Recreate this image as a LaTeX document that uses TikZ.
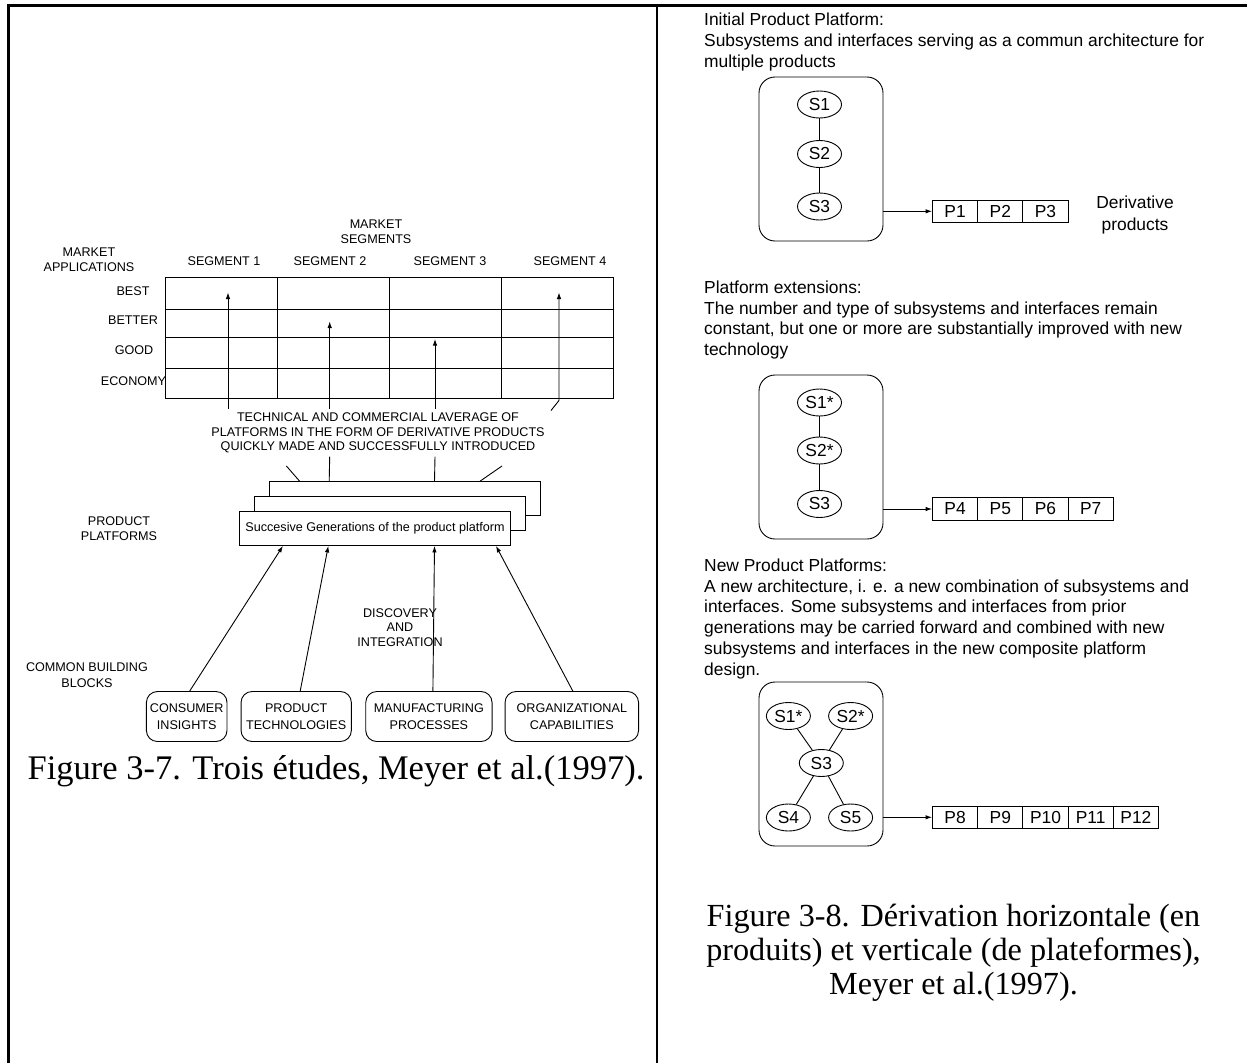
\documentclass[tikz,border=0pt]{standalone}
\usepackage{fontspec}
\setmainfont{Liberation Serif}
\newfontfamily\arialf{Liberation Sans}
\usetikzlibrary{arrows.meta,shapes.geometric}

\begin{document}
\begin{tikzpicture}[x=1pt,y=-1pt,
  ln/.style={line width=0.9pt},
  arr/.style={ln,-{Latex[length=6.5pt,width=4.5pt]}},
  lbl/.style={font=\arialf\fontsize{12.6}{15}\selectfont,align=center,inner sep=0},
  rtxt/.style={font=\arialf\fontsize{17.4}{20.8}\selectfont,align=left,anchor=north west,inner sep=0},
  capt/.style={align=center,inner sep=0},
  block/.style={draw,ln,rounded corners=11pt,minimum height=50pt,inner sep=0,
    font=\arialf\fontsize{12.6}{17}\selectfont,align=center},
  layer/.style={draw,ln,fill=white,inner sep=0,minimum width=270.7pt,minimum height=34pt,
    font=\arialf\fontsize{12.6}{15}\selectfont},
  plat/.style={draw,ln,rounded corners=16pt,minimum width=124pt,minimum height=164pt,inner sep=0},
  sub/.style={draw,ln,ellipse,minimum width=44pt,minimum height=27pt,inner sep=0,
    font=\arialf\fontsize{17.4}{20}\selectfont},
  prod/.style={draw,ln,minimum width=45.2pt,minimum height=22.5pt,inner sep=0,
    font=\arialf\fontsize{17.4}{20}\selectfont},
]
\useasboundingbox (0,0) rectangle (1247,1063);

% page frame: two columns
\draw[line width=2.2pt] (8.5,1063) -- (8.5,5.5) -- (1247,5.5);
\draw[line width=2.2pt] (657,5.5) -- (657,1063);

% ---------------- left column: platform leverage map ----------------
\node[lbl] (mseg) at (376,231.5) {MARKET\\SEGMENTS};
\node[lbl] (mapp) at (89,260) {MARKET\\APPLICATIONS};
\node[lbl] (seg1) at (224,261.5) {SEGMENT 1};
\node[lbl] (seg2) at (330,261.5) {SEGMENT 2};
\node[lbl] (seg3) at (450,261.5) {SEGMENT 3};
\node[lbl] (seg4) at (570,261.5) {SEGMENT 4};

% segment / application grid
\draw[ln] (165,277) rectangle (613,398);
\foreach \gx in {277,389,501} \draw[ln] (\gx,277) -- (\gx,398);
\foreach \gy in {309,337.5,368.5} \draw[ln] (165,\gy) -- (613,\gy);

\node[lbl] (best) at (133,291) {BEST};
\node[lbl] (better) at (133,320) {BETTER};
\node[lbl] (good) at (134,350.5) {GOOD};
\node[lbl] (economy) at (133.5,381) {ECONOMY};

% derivative products reaching into the grid
\coordinate (a1s) at (228,409);   \coordinate (a1e) at (228,292.5);
\coordinate (a2s) at (329.7,409); \coordinate (a2e) at (329.7,321.5);
\coordinate (a3s) at (435,409);   \coordinate (a3e) at (435,339);
\coordinate (a4s) at (551,410.5); \coordinate (a4b) at (559,400.5); \coordinate (a4e) at (559,292.5);
\draw[arr] (a1s) -- (a1e);
\draw[arr] (a2s) -- (a2e);
\draw[arr] (a3s) -- (a3e);
\draw[arr] (a4s) -- (a4b) -- (a4e);

\node[lbl,font=\arialf\fontsize{12.6}{14.5}\selectfont] (lev) at (378,433)
  {TECHNICAL AND COMMERCIAL LAVERAGE OF\\PLATFORMS IN THE FORM OF DERIVATIVE PRODUCTS\\QUICKLY MADE AND SUCCESSFULLY INTRODUCED};

% stacked platform generations
\node[layer] (back) at (404.7,498.5) {};
\node[layer] (mid) at (389.8,513.5) {};
\node[layer] (front) at (375,528.5) {Succesive Generations of the product platform};

\coordinate (l1s) at (286.4,466);
\coordinate (l2s) at (329.7,456.7);
\coordinate (l3s) at (435,456.7);
\coordinate (l4s) at (502,466);
\draw[ln] (l1s) -- ([xshift=30.6pt]back.north west);
\draw[ln] (l2s) -- ([xshift=60.3pt]back.north west);
\draw[ln] (l3s) -- ([xshift=165.6pt]back.north west);
\draw[ln] (l4s) -- ([xshift=211.3pt]back.north west);

\node[lbl] (pplat) at (119,528.5) {PRODUCT\\PLATFORMS};

% common building blocks
\node[block,minimum width=80.6pt] (cb) at (186.7,716.5) {CONSUMER\\INSIGHTS};
\node[block,minimum width=110.3pt] (pt) at (296.2,716.5) {PRODUCT\\TECHNOLOGIES};
\node[block,minimum width=126.3pt] (mp) at (428.9,716.5) {MANUFACTURING\\PROCESSES};
\node[block,minimum width=133.5pt] (oc) at (571.8,716.5) {ORGANIZATIONAL\\CAPABILITIES};

\draw[arr] ([xshift=3pt]cb.north) -- ([xshift=43.7pt]front.south west);
\draw[arr] ([xshift=4pt]pt.north) -- ([xshift=89.1pt]front.south west);
\draw[arr] ([xshift=4pt]mp.north) -- ([xshift=195.3pt]front.south west);
\draw[arr] ([xshift=1pt]oc.north) -- ([xshift=256.8pt]front.south west);

\node[lbl,font=\arialf\fontsize{12.6}{14.8}\selectfont] (disc) at (400,627.5) {DISCOVERY\\AND\\INTEGRATION};
\node[lbl,font=\arialf\fontsize{12.6}{15.6}\selectfont] (cbb) at (87,675) {COMMON BUILDING\\BLOCKS};

\node[capt,font=\fontsize{34.5}{38}\selectfont,anchor=base] (cap1) at (336,779)
  {Figure 3-7. Trois études, Meyer et al.(1997).};

% ---------------- right column: horizontal and vertical derivation ----------------
\node[rtxt,font=\arialf\fontsize{17.4}{21}\selectfont] (t1) at (704,13)
  {Initial Product Platform:\\Subsystems and interfaces serving as a commun architecture for\\multiple products};

\node[plat] (pf1) at (821,159) {};
\node[sub] (a-s1) at (819.5,104.5) {S1};
\node[sub] (a-s2) at (819.5,154) {S2};
\node[sub] (a-s3) at (819.5,206.5) {S3};
\draw[ln] (a-s1) -- (a-s2);
\draw[ln] (a-s2) -- (a-s3);
\foreach \i/\cx in {1/955.1,2/1000.3,3/1045.5}
  \node[prod] (p\i) at (\cx,211.3) {P\i};
\draw[arr] (pf1.east |- p1.west) -- (p1.west);
\node[font=\arialf\fontsize{17.4}{21.3}\selectfont,align=center,inner sep=0] (deriv) at (1135,215)
  {Derivative\\products};

\node[rtxt] (t2) at (704,280.5)
  {Platform extensions:\\The number and type of subsystems and interfaces remain\\constant, but one or more are substantially improved with new\\technology};

\node[plat] (pf2) at (821,457) {};
\node[sub] (b-s1) at (819.5,402.5) {S1*};
\node[sub] (b-s2) at (819.5,450.5) {S2*};
\node[sub] (b-s3) at (819.5,504) {S3};
\draw[ln] (b-s1) -- (b-s2);
\draw[ln] (b-s2) -- (b-s3);
\foreach \i/\cx in {4/955.1,5/1000.3,6/1045.5,7/1090.7}
  \node[prod] (p\i) at (\cx,509) {P\i};
\draw[arr] (pf2.east |- p4.west) -- (p4.west);

\node[rtxt] (t3) at (704,558.5)
  {New Product Platforms:\\A new architecture, i. e. a new combination of subsystems and\\interfaces. Some subsystems and interfaces from prior\\generations may be carried forward and combined with new\\subsystems and interfaces in the new composite platform\\design.};

\node[plat] (pf3) at (821,764) {};
\node[sub] (c-s1) at (788.4,716) {S1*};
\node[sub] (c-s2) at (850.6,716) {S2*};
\node[sub] (c-s3) at (821.3,763) {S3};
\node[sub] (c-s4) at (788.4,817.5) {S4};
\node[sub] (c-s5) at (850.6,817.5) {S5};
\draw[ln] (c-s1) -- (c-s3);
\draw[ln] (c-s2) -- (c-s3);
\draw[ln] (c-s3) -- (c-s4);
\draw[ln] (c-s3) -- (c-s5);
\foreach \i/\cx in {8/955.1,9/1000.3,10/1045.5,11/1090.7,12/1135.9}
  \node[prod] (p\i) at (\cx,817.3) {P\i};
\draw[arr] (pf3.east |- p8.west) -- (p8.west);

\node[capt,font=\fontsize{32.2}{34}\selectfont] (cap2) at (953.5,952.5)
  {Figure 3-8. Dérivation horizontale (en\\produits) et verticale (de plateformes),\\Meyer et al.(1997).};
\end{tikzpicture}
\end{document}
